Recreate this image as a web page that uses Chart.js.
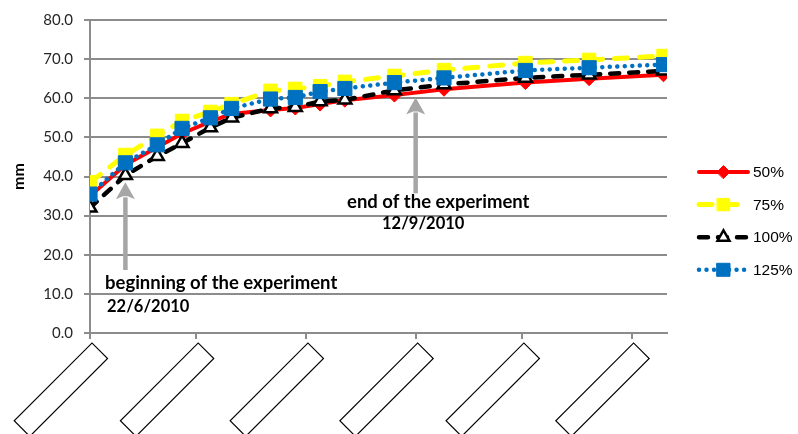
<!DOCTYPE html>
<html>
<head>
<meta charset="utf-8">
<script src="https://cdn.jsdelivr.net/npm/chart.js@4"></script>
<style>
  html, body { margin: 0; padding: 0; background: #ffffff; }
  #wrap { width: 798px; height: 434px; position: relative; }
</style>
</head>
<body>
<div id="wrap"><canvas id="chart" width="798" height="434"></canvas></div>
<script>
// Sampling days, counted from 12 June 2010
const sampleDays = [0, 10, 19, 26, 34, 40, 51, 58, 65, 72, 86, 100, 123, 141, 162];

// Measured length (mm) per irrigation level
const level50  = [35.0, 43.0, 47.5, 51.0, 54.0, 56.0, 57.0, 57.5, 58.5, 59.5, 60.8, 62.3, 64.0, 65.0, 66.0];
const level75  = [38.5, 45.5, 50.4, 54.2, 56.5, 58.5, 61.9, 62.4, 63.1, 64.2, 65.7, 67.2, 69.0, 69.8, 70.8];
const level100 = [32.0, 40.3, 45.2, 48.5, 52.5, 55.0, 57.4, 57.7, 59.2, 59.6, 62.0, 63.5, 65.2, 66.0, 67.0];
const level125 = [35.5, 43.5, 48.1, 52.3, 55.0, 57.4, 59.8, 60.2, 61.7, 62.5, 64.0, 65.2, 67.1, 67.8, 68.6];

const seriesNames = ['50%', '75%', '100%', '125%'];

// Monthly date ticks on the x axis (days from 12 June 2010)
const tickDays  = [0, 30, 61, 92, 122, 153];
const tickDates = ['12/6/2010', '12/7/2010', '12/8/2010', '12/9/2010', '12/10/2010', '12/11/2010'];

// Experiment start / end markers (days from 12 June 2010)
const startDay = 10;   // 22/6/2010
const endDay = 92;     // 12/9/2010

const yTicks = { min: 0, max: 80, step: 10 };

const GRID = '#8c8c8c';
const ARROW = '#a6a6a6';

function toPoints(values) {
  return sampleDays.map((d, i) => ({ x: d, y: values[i] }));
}

const datasets = [
  {
    label: seriesNames[0], data: toPoints(level50), order: 4,
    borderColor: '#ff0000', borderWidth: 4, borderCapStyle: 'round',
    pointStyle: 'rectRot', pointRadius: 7,
    pointBackgroundColor: '#ff0000', pointBorderColor: '#ff0000', pointBorderWidth: 1
  },
  {
    label: seriesNames[1], data: toPoints(level75), order: 3,
    borderColor: '#ffff00', borderWidth: 5, borderDash: [13, 12], borderCapStyle: 'round',
    pointStyle: 'rect', pointRadius: 9.5,
    pointBackgroundColor: '#ffff00', pointBorderColor: '#ffff00', pointBorderWidth: 1
  },
  {
    label: seriesNames[2], data: toPoints(level100), order: 2,
    borderColor: '#000000', borderWidth: 4.5, borderDash: [9, 10], borderCapStyle: 'round',
    pointStyle: 'triangle', pointRadius: 7.5,
    pointBackgroundColor: '#ffffff', pointBorderColor: '#000000', pointBorderWidth: 2.5
  },
  {
    label: seriesNames[3], data: toPoints(level125), order: 1,
    borderColor: '#0070c0', borderWidth: 4.5, borderDash: [0.01, 7.5], borderCapStyle: 'round',
    pointStyle: 'rect', pointRadius: 10,
    pointBackgroundColor: '#0070c0', pointBorderColor: '#0070c0', pointBorderWidth: 1
  }
];

function drawArrow(ctx, x, yTip, yTail) {
  const headLen = 17, headHalf = 9.5;
  ctx.save();
  ctx.strokeStyle = ARROW;
  ctx.fillStyle = ARROW;
  ctx.lineWidth = 4.5;
  ctx.beginPath();
  ctx.moveTo(x, yTail);
  ctx.lineTo(x, yTip + headLen - 2);
  ctx.stroke();
  ctx.beginPath();
  ctx.moveTo(x, yTip);
  ctx.lineTo(x + headHalf, yTip + headLen);
  ctx.lineTo(x + 2.5, yTip + headLen - 3);
  ctx.lineTo(x - 2.5, yTip + headLen - 3);
  ctx.lineTo(x - headHalf, yTip + headLen);
  ctx.closePath();
  ctx.fill();
  ctx.restore();
}

const decorations = {
  id: 'decorations',
  beforeDatasetsDraw(chart) {
    const { ctx, scales: { x, y } } = chart;
    drawArrow(ctx, x.getPixelForValue(startDay), y.getPixelForValue(38.5), y.getPixelForValue(16.1));
    drawArrow(ctx, x.getPixelForValue(endDay), y.getPixelForValue(60.2), y.getPixelForValue(35.7));
  },
  afterDraw(chart) {
    const { ctx, scales: { x } } = chart;
    ctx.save();

    // Annotation captions
    ctx.fillStyle = '#000000';
    ctx.textBaseline = 'middle';
    ctx.textAlign = 'left';
    ctx.font = 'bold 18.5px Lato';
    ctx.fillText('beginning of the experiment', 105, 283);
    ctx.fillText('end of the experiment', 347, 202);
    ctx.font = 'bold 16.5px Lato';
    ctx.fillText('22/6/2010', 107, 307);
    ctx.fillText('12/9/2010', 382, 224);

    // Date tick label frames below the x axis
    ctx.strokeStyle = '#000000';
    ctx.lineWidth = 1.2;
    tickDates.forEach((label, i) => {
      const px = x.getPixelForValue(tickDays[i]);
      ctx.save();
      ctx.translate(px + 2, 343);
      ctx.rotate(Math.PI / 4);
      ctx.strokeRect(0, 0, 22, 110);
      ctx.restore();
    });

    // Legend
    const lx0 = 699, lx1 = 748, mx = 723.5;
    chart.data.datasets.forEach((ds, i) => {
      const ly = 172 + i * 32.6;
      ctx.save();
      ctx.strokeStyle = ds.borderColor;
      ctx.lineWidth = ds.borderWidth;
      ctx.lineCap = ds.borderCapStyle || 'butt';
      ctx.setLineDash(ds.borderDash || []);
      ctx.beginPath();
      ctx.moveTo(lx0, ly);
      ctx.lineTo(lx1, ly);
      ctx.stroke();
      ctx.setLineDash([]);
      ctx.fillStyle = ds.pointBackgroundColor;
      ctx.strokeStyle = ds.pointBorderColor;
      ctx.lineWidth = ds.pointBorderWidth;
      Chart.helpers.drawPoint(ctx, {
        pointStyle: ds.pointStyle, rotation: 0,
        radius: ds.pointRadius * 0.92, borderWidth: ds.pointBorderWidth
      }, mx, ly);
      ctx.fillStyle = '#000000';
      ctx.font = '15.5px "Liberation Sans"';
      ctx.textAlign = 'left';
      ctx.textBaseline = 'middle';
      ctx.fillText(ds.label, 753, ly + 1);
      ctx.restore();
    });
    ctx.restore();
  }
};

new Chart(document.getElementById('chart'), {
  type: 'line',
  data: { datasets },
  options: {
    responsive: false,
    animation: false,
    devicePixelRatio: 1,
    layout: { padding: { top: 19, right: 131, bottom: 0, left: 0 } },
    elements: { line: { tension: 0, fill: false } },
    plugins: { legend: { display: false }, tooltip: { enabled: false } },
    scales: {
      x: {
        type: 'linear', min: 0, max: 163,
        afterBuildTicks(scale) { scale.ticks = tickDays.map(v => ({ value: v })); },
        afterFit(scale) { scale.height = 101; },
        ticks: { display: false },
        grid: { drawOnChartArea: false, drawTicks: true, tickLength: 6, color: GRID, lineWidth: 2 },
        border: { color: GRID, width: 2 }
      },
      y: {
        min: yTicks.min, max: yTicks.max,
        afterFit(scale) { scale.width = 90; },
        ticks: {
          stepSize: yTicks.step, padding: 11, color: '#262626',
          font: { family: 'Lato', size: 15 },
          callback: v => Number(v).toFixed(1)
        },
        grid: { color: GRID, lineWidth: 2, tickLength: 6 },
        border: { color: GRID, width: 2 },
        title: {
          display: true, text: 'mm', color: '#000000',
          font: { family: 'Lato', size: 16, weight: 'bold' },
          padding: { top: 9, bottom: 0 }
        }
      }
    }
  },
  plugins: [decorations]
});
</script>
</body>
</html>
